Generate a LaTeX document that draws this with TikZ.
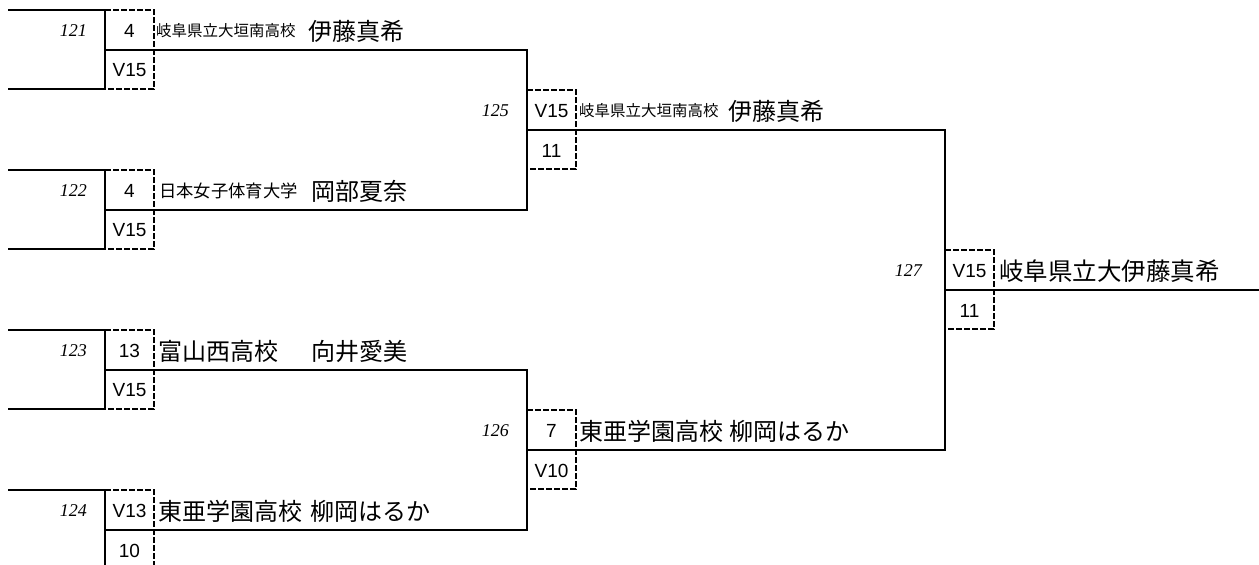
\documentclass[tikz,border=0pt]{standalone}
\usepackage{fontspec}
\setmainfont{Liberation Sans}
\newfontfamily\jp{Noto Sans CJK JP}
\newfontfamily\tnr{Liberation Serif}
\newcommand\drawmatch[3]{%
  \coordinate (#1tl) at (#2,#3);
  \coordinate (#1tr) at ({#2+49},#3);
  \coordinate (#1ml) at (#2,{#3+40});
  \coordinate (#1bl) at (#2,{#3+79});
  \coordinate (#1br) at ({#2+49},{#3+79});
  \draw[dbox] (#1tl) -- (#1tr) -- (#1br) -- (#1bl);
  \draw[wire] (#1tl) -- (#1bl);
}
\begin{document}
\begin{tikzpicture}[x=1pt,y=-1pt,
  wire/.style={line width=2pt},
  dbox/.style={line width=1.7pt, dash pattern=on 6pt off 2pt},
  score/.style={font=\fontsize{19}{19}\selectfont, inner sep=0pt, anchor=center},
  lab/.style={font=\fontsize{18}{18}\selectfont\tnr\itshape, inner sep=0pt, anchor=east},
  jpb/.style={font=\fontsize{24}{24}\selectfont\jp, inner sep=0pt, anchor=west},
  jps/.style={inner sep=0pt, anchor=west}]
\useasboundingbox (0,0) rectangle (1259,565);

% match boxes
\drawmatch{m121}{105}{10}
\drawmatch{m122}{105}{170}
\drawmatch{m123}{105}{330}
\drawmatch{m124}{105}{490}
\drawmatch{m125}{527}{90}
\drawmatch{m126}{527}{410}
\drawmatch{m127}{945}{250}

% left entry lines of the first round
\coordinate (e121t) at (8,10);  \coordinate (e121b) at (8,89);
\coordinate (e122t) at (8,170); \coordinate (e122b) at (8,249);
\coordinate (e123t) at (8,330); \coordinate (e123b) at (8,409);
\coordinate (e124t) at (8,490);
\draw[wire] (e121t) -- (m121tl);
\draw[wire] (e121b) -- (m121bl);
\draw[wire] (e122t) -- (m122tl);
\draw[wire] (e122b) -- (m122bl);
\draw[wire] (e123t) -- (m123tl);
\draw[wire] (e123b) -- (m123bl);
\draw[wire] (e124t) -- (m124tl);

% connectors
\draw[wire] (m121ml) -- (m121ml -| m125tl) -- (m122ml -| m125tl) -- (m122ml);
\draw[wire] (m123ml) -- (m123ml -| m126tl) -- (m124ml -| m126tl) -- (m124ml);
\draw[wire] (m125ml) -- (m125ml -| m127tl) -- (m126ml -| m127tl) -- (m126ml);
\coordinate (fin) at (1259,290);
\draw[wire] (m127ml) -- (fin);

% row 121
\node[lab] (l121) at (87,31) {121};
\node[score] (a121) at (129.5,31) {4};
\node[score] (b121) at (129.5,70.5) {V15};
\node[jps, font=\fontsize{15.5}{15.5}\selectfont\jp] (s121) at (156,31) {岐阜県立大垣南高校};
\node[jpb] (n121) at (308.5,31) {伊藤真希};
% row 122
\node[lab] (l122) at (87,191) {122};
\node[score] (a122) at (129.5,191) {4};
\node[score] (b122) at (129.5,230.5) {V15};
\node[jps, font=\fontsize{17.3}{17.3}\selectfont\jp] (s122) at (159,191) {日本女子体育大学};
\node[jpb] (n122) at (311,191) {岡部夏奈};
% row 123
\node[lab] (l123) at (87,351) {123};
\node[score] (a123) at (129.5,351) {13};
\node[score] (b123) at (129.5,390.5) {V15};
\node[jpb] (s123) at (158,351) {富山西高校};
\node[jpb] (n123) at (311,351) {向井愛美};
% row 124
\node[lab] (l124) at (87,511) {124};
\node[score] (a124) at (129.5,511) {V13};
\node[score] (b124) at (129.5,550.5) {10};
\node[jpb] (s124) at (158,511) {東亜学園高校};
\node[jpb] (n124) at (310,511) {柳岡はるか};
% row 125
\node[lab] (l125) at (509,111) {125};
\node[score] (a125) at (551.5,111) {V15};
\node[score] (b125) at (551.5,150.5) {11};
\node[jps, font=\fontsize{15.5}{15.5}\selectfont\jp] (s125) at (579,111) {岐阜県立大垣南高校};
\node[jpb] (n125) at (728,111) {伊藤真希};
% row 126
\node[lab] (l126) at (509,431) {126};
\node[score] (a126) at (551.5,431) {7};
\node[score] (b126) at (551.5,470.5) {V10};
\node[jpb] (s126) at (579,431) {東亜学園高校};
\node[jpb] (n126) at (729,431) {柳岡はるか};
% row 127
\node[lab] (l127) at (922,271) {127};
\node[score] (a127) at (969.5,271) {V15};
\node[score] (b127) at (969.5,310.5) {11};
\node[jps, font=\fontsize{24.5}{24.5}\selectfont\jp] (n127) at (999,271) {岐阜県立大伊藤真希};
\end{tikzpicture}
\end{document}
